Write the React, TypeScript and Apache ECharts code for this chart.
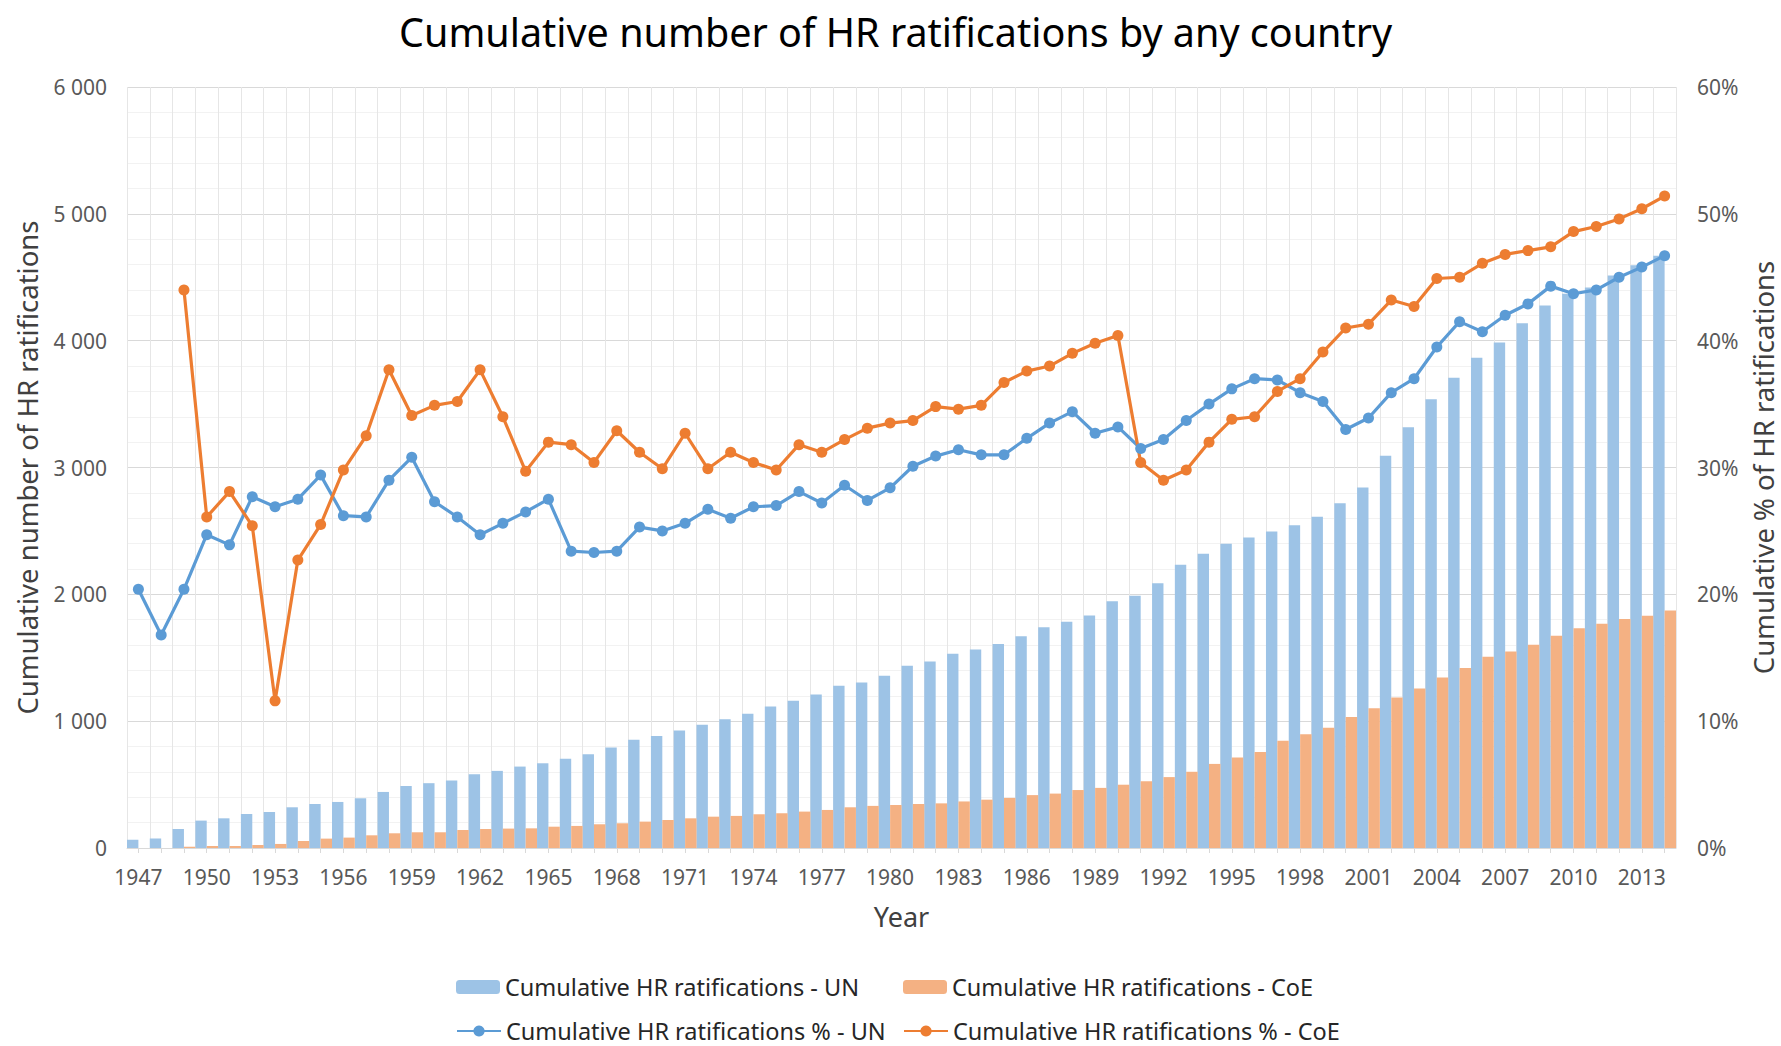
import React, { useEffect, useRef } from "react";
import * as echarts from "echarts";

const years = [
  "1947", "1948", "1949", "1950", "1951", "1952", "1953", "1954", "1955", "1956",
  "1957", "1958", "1959", "1960", "1961", "1962", "1963", "1964", "1965", "1966",
  "1967", "1968", "1969", "1970", "1971", "1972", "1973", "1974", "1975", "1976",
  "1977", "1978", "1979", "1980", "1981", "1982", "1983", "1984", "1985", "1986",
  "1987", "1988", "1989", "1990", "1991", "1992", "1993", "1994", "1995", "1996",
  "1997", "1998", "1999", "2000", "2001", "2002", "2003", "2004", "2005", "2006",
  "2007", "2008", "2009", "2010", "2011", "2012", "2013", "2014",
];

const unCount = [
  65, 75, 150, 216, 234, 268, 284, 321, 347, 363,
  392, 442, 489, 511, 532, 582, 608, 642, 668, 703,
  739, 792, 853, 884, 926, 971, 1016, 1058, 1116, 1161,
  1211, 1279, 1305, 1358, 1437, 1470, 1532, 1566, 1608, 1670,
  1740, 1783, 1834, 1946, 1989, 2087, 2234, 2319, 2398, 2448,
  2496, 2544, 2612, 2718, 2842, 3092, 3317, 3539, 3708, 3866,
  3986, 4137, 4278, 4370, 4420, 4514, 4595, 4670,
];

const coeCount = [
  0, 0, 10, 16, 16, 24, 32, 55, 74, 82,
  100, 116, 124, 124, 142, 150, 153, 155, 168, 174,
  187, 195, 208, 221, 234, 247, 253, 266, 274, 287,
  300, 321, 332, 339, 347, 352, 367, 381, 395, 417,
  429, 457, 474, 499, 527, 559, 601, 663, 714, 756,
  846, 897, 948, 1032, 1102, 1187, 1257, 1345, 1419, 1507,
  1549, 1602, 1673, 1732, 1768, 1806, 1831, 1873,
];

const unPct = [
  20.4, 16.8, 20.4, 24.7, 23.9, 27.7, 26.9, 27.5, 29.4, 26.2,
  26.1, 29.0, 30.8, 27.3, 26.1, 24.7, 25.6, 26.5, 27.5, 23.4,
  23.3, 23.4, 25.3, 25.0, 25.6, 26.7, 26.0, 26.9, 27.0, 28.1,
  27.2, 28.6, 27.4, 28.4, 30.1, 30.9, 31.4, 31.0, 31.0, 32.3,
  33.5, 34.4, 32.7, 33.2, 31.5, 32.2, 33.7, 35.0, 36.2, 37.0,
  36.9, 35.9, 35.2, 33.0, 33.9, 35.9, 37.0, 39.5, 41.5, 40.7,
  42.0, 42.9, 44.3, 43.7, 44.0, 45.0, 45.8, 46.7,
];

const coePct = [
  null, null, 44.0, 26.1, 28.1, 25.4, 11.6, 22.7, 25.5, 29.8,
  32.5, 37.7, 34.1, 34.9, 35.2, 37.7, 34.0, 29.7, 32.0, 31.8,
  30.4, 32.9, 31.2, 29.9, 32.7, 29.9, 31.2, 30.4, 29.8, 31.8,
  31.2, 32.2, 33.1, 33.5, 33.7, 34.8, 34.6, 34.9, 36.7, 37.6,
  38.0, 39.0, 39.8, 40.4, 30.4, 29.0, 29.8, 32.0, 33.8, 34.0,
  36.0, 37.0, 39.1, 41.0, 41.3, 43.2, 42.7, 44.9, 45.0, 46.1,
  46.8, 47.1, 47.4, 48.6, 49.0, 49.6, 50.4, 51.4,
];

const NAME_UN = "Cumulative HR ratifications - UN";
const NAME_COE = "Cumulative HR ratifications - CoE";
const NAME_UN_PCT = "Cumulative HR ratifications % - UN";
const NAME_COE_PCT = "Cumulative HR ratifications % - CoE";

const TITLE = "Cumulative number of HR ratifications by any country";
const LEFT_NAME = "Cumulative number of HR ratifications";
const RIGHT_NAME = "Cumulative % of HR ratifications";
const X_NAME = "Year";

const FONT = "'Noto Sans', 'Open Sans', sans-serif";

const BLUE_BAR = "#9DC3E6";
const ORANGE_BAR = "#F4B183";
const BLUE_LINE = "#5B9BD5";
const ORANGE_LINE = "#ED7D31";

function fmtThousands(v: number): string {
  if (v === 0) return "0";
  const s = String(Math.round(v));
  return s.replace(/\B(?=(\d{3})+(?!\d))/g, " ");
}

export default function App() {
  const ref = useRef<HTMLDivElement>(null);

  useEffect(() => {
    document.body.style.margin = "0";
    const chart = echarts.init(ref.current!, null, { renderer: "svg" });

    const legendText = { fontSize: 23.5, color: "#262626", fontFamily: FONT };
    const mkLegend = (name: string, left: number, top: number) => ({
      data: [name],
      left,
      top,
      padding: 0,
      itemWidth: 44,
      itemHeight: 14,
      itemGap: 0,
      textStyle: legendText,
      selectedMode: false,
    });

    chart.setOption({
      animation: false,
      backgroundColor: "#ffffff",
      textStyle: { fontFamily: FONT },
      title: {
        text: TITLE,
        left: 394,
        top: 7,
        textStyle: { fontSize: 39.5, fontWeight: "normal", color: "#000000", fontFamily: FONT },
      },
      grid: {
        left: 127,
        right: 105,
        top: 87,
        bottom: 198,
        containLabel: false,
        outerBoundsMode: "none",
      },
      legend: [
        mkLegend(NAME_UN, 456, 975),
        mkLegend(NAME_COE, 903, 975),
        mkLegend(NAME_UN_PCT, 456, 1019),
        mkLegend(NAME_COE_PCT, 903, 1019),
      ],
      xAxis: {
        type: "category",
        data: years,
        boundaryGap: true,
        name: X_NAME,
        nameLocation: "middle",
        nameGap: 55,
        nameTextStyle: { fontSize: 27, color: "#404040", fontFamily: FONT },
        axisLine: { show: true, lineStyle: { color: "#d9d9d9", width: 1 } },
        axisTick: { show: true, alignWithLabel: true, interval: 0, length: 5, lineStyle: { color: "#d9d9d9" } },
        axisLabel: { interval: 2, color: "#595959", fontSize: 21, margin: 18, fontFamily: FONT },
        splitLine: { show: true, interval: 0, lineStyle: { color: "#e6e6e6", width: 1 } },
      },
      yAxis: [
        {
          type: "value",
          min: 0,
          max: 6000,
          interval: 1000,
          position: "left",
          name: LEFT_NAME,
          nameLocation: "middle",
          nameGap: 86,
          nameRotate: 90,
          nameTextStyle: { fontSize: 27.5, color: "#404040", fontFamily: FONT },
          axisLine: { show: false },
          axisTick: { show: false },
          axisLabel: { color: "#595959", fontSize: 21, margin: 20, formatter: fmtThousands, fontFamily: FONT },
          splitLine: { show: true, lineStyle: { color: "#d9d9d9", width: 1 } },
          minorTick: { show: false, splitNumber: 5 },
          minorSplitLine: { show: true, lineStyle: { color: "#f2f2f2", width: 1 } },
        },
        {
          type: "value",
          min: 0,
          max: 60,
          interval: 10,
          position: "right",
          name: RIGHT_NAME,
          nameLocation: "middle",
          nameGap: 72,
          nameRotate: 90,
          nameTextStyle: { fontSize: 27.5, color: "#404040", fontFamily: FONT },
          axisLine: { show: false },
          axisTick: { show: false },
          axisLabel: { color: "#595959", fontSize: 21, margin: 21, formatter: "{value}%", fontFamily: FONT },
          splitLine: { show: false },
        },
      ],
      series: [
        {
          name: NAME_UN,
          type: "bar",
          yAxisIndex: 0,
          data: unCount,
          barGap: "0%",
          barCategoryGap: "0%",
          itemStyle: { color: BLUE_BAR },
        },
        {
          name: NAME_COE,
          type: "bar",
          yAxisIndex: 0,
          data: coeCount,
          barGap: "0%",
          barCategoryGap: "0%",
          itemStyle: { color: ORANGE_BAR },
        },
        {
          name: NAME_UN_PCT,
          type: "line",
          yAxisIndex: 1,
          data: unPct,
          symbol: "circle",
          symbolSize: 11,
          z: 5,
          lineStyle: { width: 3.2, color: BLUE_LINE },
          itemStyle: { color: BLUE_LINE },
        },
        {
          name: NAME_COE_PCT,
          type: "line",
          yAxisIndex: 1,
          data: coePct,
          symbol: "circle",
          symbolSize: 11,
          z: 5,
          lineStyle: { width: 3.2, color: ORANGE_LINE },
          itemStyle: { color: ORANGE_LINE },
        },
      ],
    });

    return () => chart.dispose();
  }, []);

  return (
    <div
      ref={ref}
      style={{ position: "absolute", left: 0, top: 0, width: 1781, height: 1046 }}
    />
  );
}
